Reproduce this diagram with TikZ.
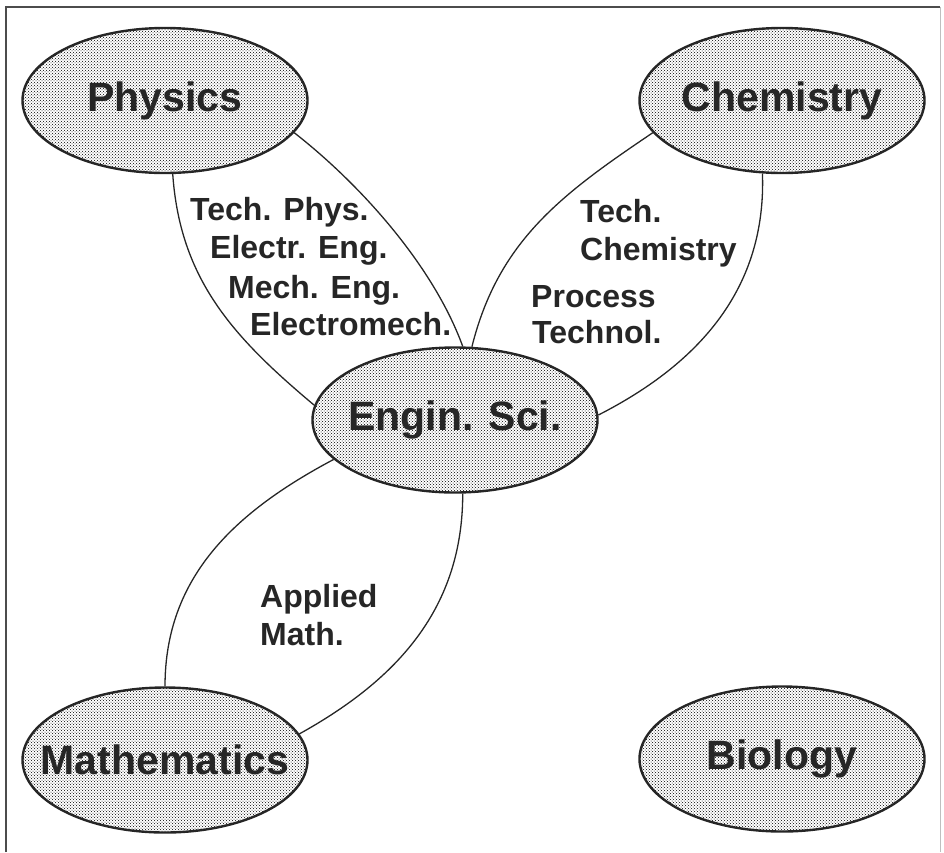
\documentclass[tikz,border=0pt]{standalone}
\usepackage{fontspec}
\setmainfont{Liberation Sans}
\usetikzlibrary{shapes.geometric,patterns}

\begin{document}
\begin{tikzpicture}[x=1pt, y=1pt,
    field/.style={ellipse, draw=black!85, line width=2.4pt, pattern=crosshatch dots, pattern color=black, minimum width=285pt, minimum height=145pt, inner sep=0pt, font=\fontsize{41}{41}\selectfont\bfseries, text=black!85},
    area/.style={anchor=base west, inner sep=0pt, font=\fontsize{32}{32}\selectfont\bfseries, text=black!85},
    lens/.style={line width=1.3pt, black!85}]

    \useasboundingbox (0,0) rectangle (944,-852);

    % Frame
    \draw[line width=1.5pt, black!70] (6,-852) -- (6,-7) -- (940,-7);
    \draw[line width=0.8pt, black!25] (940,-7) -- (940,-852);

    % Sciences
    \node[field] (phys) at (165,-100.5) {\makebox[0pt]{Physics}};
    \node[field] (chem) at (782,-100.5) {\makebox[0pt]{Chemistry}};
    \node[field] (eng) at (455,-420) {\makebox[0pt]{Engin. Sci.}};
    \node[field] (math) at (165,-760) {\makebox[0pt]{Mathematics}};
    \node[field] (bio) at (782,-759) {\makebox[0pt]{Biology}};

    % Physics - Engin. Sci.
    \node[area] (tp1) at (190,-220) {Tech. Phys.};
    \node[area] (tp2) at (210,-258) {Electr. Eng.};
    \node[area] (tp3) at (228,-298) {Mech. Eng.};
    \node[area] (tp4) at (250,-335) {Electromech.};

    % Chemistry - Engin. Sci.
    \node[area] (tc1) at (580,-222) {Tech.};
    \node[area] (tc2) at (580,-260) {Chemistry};
    \node[area] (pt1) at (531,-307) {Process};
    \node[area] (pt2) at (532,-343) {Technol.};

    % Mathematics - Engin. Sci.
    \node[area] (am1) at (260,-607) {Applied};
    \node[area] (am2) at (260,-645) {Math.};

    % Lenses
    \draw[lens] (phys.-84) to[out=-86, in=140] (eng.174);
    \draw[lens] (phys.-14) to[out=-38, in=110, looseness=0.8] (eng.84);
    \draw[lens] (chem.194) to[out=-146, in=76] (eng.77);
    \draw[lens] (chem.-105) to[out=-88, in=27] (eng.2);
    \draw[lens] (eng.-162) to[out=-152, in=90] (math.90);
    \draw[lens] (eng.-84) to[out=-90, in=29] (math.11);
\end{tikzpicture}
\end{document}
